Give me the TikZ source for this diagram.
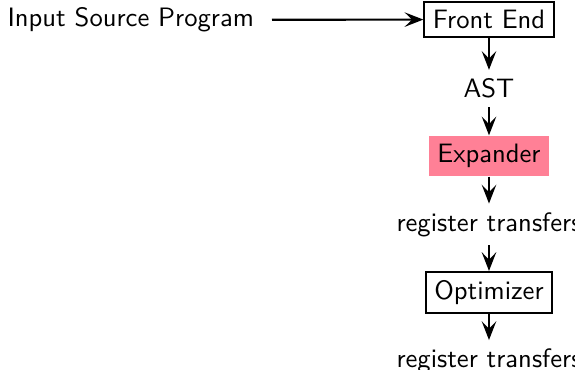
\documentclass[tikz,border=0pt]{standalone}
\usetikzlibrary{arrows.meta}
\definecolor{exppink}{RGB}{255,128,150}
\begin{document}
\begin{tikzpicture}[x=0.4pt,y=-0.4pt,
  every node/.style={font=\fontsize{10.65}{12.8}\selectfont\sffamily},
  boxed/.style={draw,line width=0.85pt},
  filledbox/.style={fill=exppink},
  flow/.style={line width=0.85pt,-{Stealth[length=7.5pt,width=5.8pt,inset=3pt]}}]
\useasboundingbox (0,0) rectangle (575,370);
\node[anchor=east,inner xsep=7pt] (in) at (272,20) {Input Source Program};
\node[boxed] (fe) at (489,19.5) {Front End};
\node (ast) at (489,88.5) {AST};
\node[filledbox] (ex) at (489,156) {Expander};
\node (rt1) at (489,224.5) {register transfers};
\node[boxed] (op) at (489,292.5) {Optimizer};
\node (rt2) at (489,361) {register transfers};
\draw[flow] (in) -- (fe);
\draw[flow] (fe) -- (ast);
\draw[flow] (ast) -- (ex);
\draw[flow] (ex) -- (rt1);
\draw[flow] (rt1) -- (op);
\draw[flow] (op) -- (rt2);
\end{tikzpicture}
\end{document}
